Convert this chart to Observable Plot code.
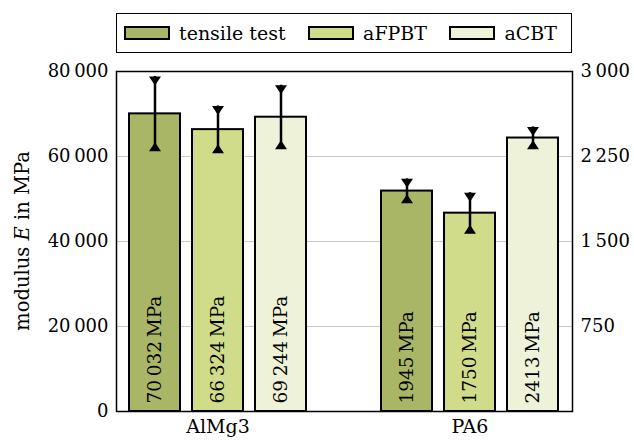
<!DOCTYPE html>
<html><head><meta charset="utf-8">
<script src="https://cdn.jsdelivr.net/npm/d3@7"></script>
<script src="https://cdn.jsdelivr.net/npm/@observablehq/plot@0.6"></script>
<style>
body{margin:0;background:#fff;}
#wrap{position:relative;width:634px;height:440px;font-family:"DejaVu Serif",serif;}
#chart{position:absolute;left:0;top:0;}
#legend{position:absolute;left:116px;top:13px;width:456px;height:40px;box-sizing:border-box;border:1.5px solid #000;background:#fff;display:flex;align-items:center;justify-content:space-between;padding:0 14px 0 7px;font-size:19px;font-family:"DejaVu Serif",serif;}
.item{display:flex;align-items:center;}
.sw{width:46px;height:14px;box-sizing:border-box;border:2px solid #000;margin-right:9px;}
#ylabel{position:absolute;left:22px;top:241px;transform:translate(-50%,-50%) rotate(-90deg);white-space:nowrap;font-size:19.5px;font-family:"DejaVu Serif",serif;}
</style></head><body>
<div id="wrap"><div id="chart"></div><div id="legend"></div><div id="ylabel">modulus <i>E</i> in MPa</div></div>
<script>
const materials = ["AlMg3", "PA6"];
const methods = ["tensile test", "aFPBT", "aCBT"];
const colors = ["#a9b665", "#d1dc8b", "#eef2d8"];
const almg3Values = [70032, 66324, 69244];
const almg3Errors = [8800, 5570, 7530];
const pa6Values = [1945, 1750, 2413];
const pa6Errors = [108, 181, 98];
const leftTicks = [0, 20000, 40000, 60000, 80000];
const rightTicks = [750, 1500, 2250, 3000];
const gridTicks = [20000, 40000, 60000];
const rightMax = 3000, leftMax = 80000;

const k = leftMax / rightMax;
const fmtAxis = d => d3.format(",")(d).replace(/,/g, "\u2009");
const fmtLabel = d => (d >= 10000 ? fmtAxis(d) : String(d)) + "\u2009MPa";

const rows = [];
materials.forEach((m, i) => {
  const vals = i === 0 ? almg3Values : pa6Values;
  const errs = i === 0 ? almg3Errors : pa6Errors;
  const s = i === 0 ? 1 : k;
  methods.forEach((meth, j) => {
    const c = i + (j - 1) * 0.25;
    rows.push({material: m, method: meth, c, x1: c - 0.1012, x2: c + 0.1012,
      v: vals[j] * s, lo: (vals[j] - errs[j]) * s, hi: (vals[j] + errs[j]) * s,
      label: fmtLabel(vals[j])});
  });
});

const triDown = {draw(ctx){ctx.moveTo(-6,0);ctx.lineTo(6,0);ctx.lineTo(0,9);ctx.closePath();}};
const triUp = {draw(ctx){ctx.moveTo(-6,0);ctx.lineTo(6,0);ctx.lineTo(0,-9);ctx.closePath();}};

const FS = 18;
const plot = Plot.plot({
  width: 634, height: 440,
  marginTop: 71, marginBottom: 29, marginLeft: 116, marginRight: 62,
  style: {fontFamily: "'DejaVu Serif', serif", fontSize: FS + "px", background: "#fff", color: "#000"},
  x: {type: "linear", domain: [-0.40278, 1.40675]},
  y: {domain: [0, leftMax]},
  color: {domain: methods, range: colors},
  marks: [
    Plot.gridY(gridTicks, {stroke: "#c8c8c8", strokeOpacity: 1, strokeWidth: 1}),
    Plot.rectY(rows, {x1: "x1", x2: "x2", y1: 0, y2: "v", fill: "method", stroke: "black", strokeWidth: 2}),
    Plot.text(rows, {x: "c", y: 0, text: "label", rotate: -90, textAnchor: "start", lineAnchor: "middle", dy: -8, fontSize: 18.5}),
    Plot.ruleX(rows, {x: "c", y1: "lo", y2: "hi", stroke: "black", strokeWidth: 2.5}),
    Plot.dot(rows, {x: "c", y: "hi", symbol: triDown, fill: "black"}),
    Plot.dot(rows, {x: "c", y: "lo", symbol: triUp, fill: "black"}),
    Plot.axisY(leftTicks, {anchor: "left", tickSize: 0, tickPadding: 8, tickFormat: fmtAxis, label: null, fontSize: FS}),
    Plot.axisY(rightTicks.map(t => t * k), {anchor: "right", tickSize: 0, tickPadding: 8, tickFormat: d => fmtAxis(Math.round(d / k)), label: null, fontSize: FS}),
    Plot.axisX([0, 1], {anchor: "bottom", tickSize: 0, tickPadding: 8, tickFormat: i => materials[i], label: null, fontSize: 19}),
    Plot.frame({stroke: "black", strokeWidth: 1.5})
  ]
});
document.getElementById("chart").appendChild(plot);

const cs = plot.scale("color");
const leg = document.getElementById("legend");
cs.domain.forEach((d, i) => {
  const it = document.createElement("div");
  it.className = "item";
  const sw = document.createElement("div");
  sw.className = "sw";
  sw.style.background = cs.range[i];
  const t = document.createElement("span");
  t.textContent = d;
  it.appendChild(sw); it.appendChild(t);
  leg.appendChild(it);
});
</script>
</body></html>
